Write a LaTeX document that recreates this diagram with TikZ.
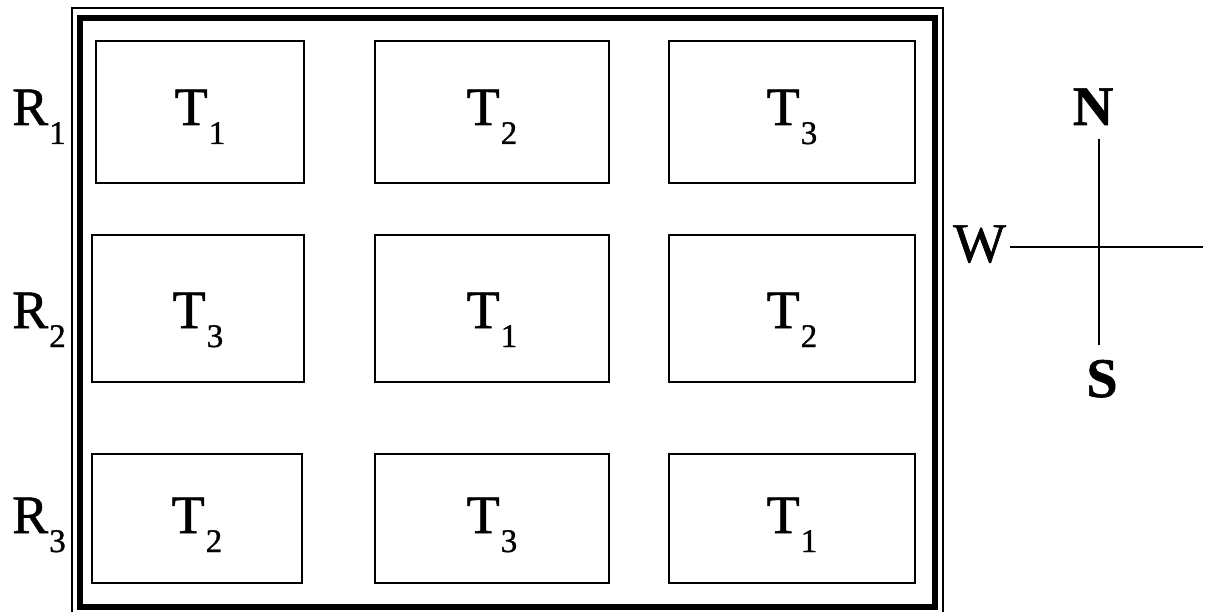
\documentclass[tikz,border=0pt]{standalone}
\usepackage{fontspec}
\setmainfont{Liberation Serif}
\newfontfamily\heavyserif[FakeBold=1]{Liberation Serif}
\newcommand{\lab}[2]{{\heavyserif\fontsize{54}{54}\selectfont #1\kern1pt\raisebox{-19pt}{\fontsize{33}{33}\selectfont #2}}}
\begin{document}
\begin{tikzpicture}[x=1pt,y=-1pt,
  plotbox/.style={draw, line width=2.8pt, inner sep=0pt},
  plottext/.style={anchor=base, inner sep=0pt},
  rowlab/.style={anchor=base west, inner sep=0pt},
  compass/.style={inner sep=0pt, font=\heavyserif\fontsize{56}{56}\selectfont}]
\useasboundingbox (0,0) rectangle (1210,612);
\clip (0,0) rectangle (1210,612);
% outer frames
\draw[line width=2pt] (72,620) -- (72,8) -- (943,8) -- (943,620);
\draw[line width=6.5pt] (80,18) rectangle (935,607);
% plots
\node[plotbox, minimum width=208pt, minimum height=142pt] (p11) at (200,112) {};
\node[plotbox, minimum width=234pt, minimum height=142pt] (p12) at (492,112) {};
\node[plotbox, minimum width=246pt, minimum height=142pt] (p13) at (792,112) {};
\node[plotbox, minimum width=212pt, minimum height=147pt] (p21) at (198,308.5) {};
\node[plotbox, minimum width=234pt, minimum height=147pt] (p22) at (492,308.5) {};
\node[plotbox, minimum width=246pt, minimum height=147pt] (p23) at (792,308.5) {};
\node[plotbox, minimum width=210pt, minimum height=129pt] (p31) at (197,518.5) {};
\node[plotbox, minimum width=234pt, minimum height=129pt] (p32) at (492,518.5) {};
\node[plotbox, minimum width=246pt, minimum height=129pt] (p33) at (792,518.5) {};
% plot labels
\node[plottext] (t11) at (200,125) {\lab{T}{1}};
\node[plottext] (t12) at (492,125) {\lab{T}{2}};
\node[plottext] (t13) at (792,125) {\lab{T}{3}};
\node[plottext] (t21) at (198,328) {\lab{T}{3}};
\node[plottext] (t22) at (492,328) {\lab{T}{1}};
\node[plottext] (t23) at (792,328) {\lab{T}{2}};
\node[plottext] (t31) at (197,533) {\lab{T}{2}};
\node[plottext] (t32) at (492,533) {\lab{T}{3}};
\node[plottext] (t33) at (792,533) {\lab{T}{1}};
% row labels
\node[rowlab] (r1) at (12,125) {\lab{R}{1}};
\node[rowlab] (r2) at (12,328) {\lab{R}{2}};
\node[rowlab] (r3) at (12,533) {\lab{R}{3}};
% compass
\node[compass, anchor=base] (cn) at (1093,125) {\bfseries N};
\node[compass, anchor=base] (cs) at (1102,397) {\bfseries S};
\node[compass, anchor=base west] (cw) at (953,262) {W};
\coordinate (ce) at (1203,247);
\coordinate (cv1) at (1099,139);
\coordinate (cv2) at (1099,345);
\coordinate (cw1) at (1010,247);
\draw[line width=2.5pt] (cv1) -- (cv2);
\draw[line width=2.5pt] (cw1) -- (ce);
\end{tikzpicture}
\end{document}
